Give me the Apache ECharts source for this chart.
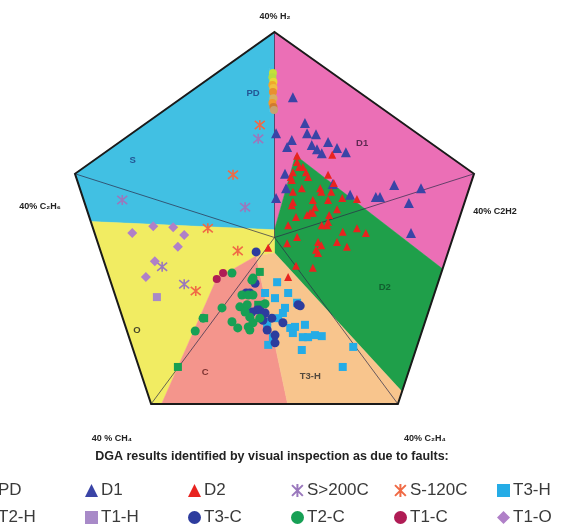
<!DOCTYPE html>
<html>
<head>
<meta charset="utf-8">
<script src="https://cdn.jsdelivr.net/npm/echarts@6/dist/echarts.min.js"></script>
<style>
  html, body { margin: 0; padding: 0; background: #fff; }
  #chart { width: 565px; height: 530px; }
</style>
</head>
<body>
<div id="chart"></div>
<script>
// Duval pentagon 2, vertices at 40% of each gas
const pentagon = [[0, 40], [38, 12.4], [23.5, -32.4], [-23.5, -32.4], [-38, 12.4]]

// zone boundaries
const zoneS = [[0, 1.5], [-35, 3.1], [-38, 12.4], [0, 40], [0, 33], [-1, 33], [-1, 24.5], [0, 24.5]]
const zonePD = [[0, 33], [-1, 33], [-1, 24.5], [0, 24.5]]
const zoneD1 = [[0, 40], [38, 12.4], [32, -6.1], [4, 16], [0, 1.5]]
const zoneD2 = [[4, 16], [32, -6.1], [24.3, -30], [0, -3], [0, 1.5]]
const zoneO = [[-3.5, -3.6], [-11, -8], [-21.5, -32.4], [-23.5, -32.4], [-35, 3.1], [0, 1.5], [0, -3]]
const zoneC = [[-3.5, -3.6], [2.5, -32.4], [-21.5, -32.4], [-11, -8]]
const zoneT3H = [[0, -3], [24.3, -30], [23.5, -32.4], [2.5, -32.4], [-3.5, -3.6]]

const zoneLabels = [
  ['PD', -4.1, 28.1], ['S', -27, 15.1], ['D1', 16.7, 18.4], ['D2', 21, -9.8],
  ['O', -26.2, -18], ['C', -13.2, -26.2], ['T3-H', 6.8, -27]
]

// DGA points
const pdPoints = [[-0.3, 32], [-0.4, 31.2], [-0.2, 30.3], [-0.4, 29.7], [-0.2, 29.1], [-0.3, 28.3], [-0.2, 27.1], [-0.4, 26.2], [-0.2, 25.4], [-0.1, 24.8]]
const d1Points = [[3.5, 27.3], [5.8, 22.3], [6.2, 20.3], [7.9, 20.1], [3.3, 19], [2.4, 17.6], [7.1, 18], [8.1, 17.2], [9, 16.4], [10.2, 18.6], [11.9, 17.4], [13.6, 16.6], [0.3, 20.3], [2, 12.4], [2.2, 9.6], [0.3, 7.7], [11.1, 10.4], [14.4, 8.3], [19.3, 7.9], [20.1, 7.9], [22.8, 10.2], [27.9, 9.6], [25.6, 6.7], [26, 0.9]]
const d2Points = [[4.3, 15.9], [4.3, 14.7], [4.7, 13.7], [3.5, 12.7], [3.1, 11.8], [3.3, 11.2], [5.4, 13.7], [6, 12.7], [6.4, 11.8], [5.2, 9.6], [3.5, 8.9], [3.5, 6.9], [3.3, 6.3], [4.1, 4], [8.7, 9.6], [8.9, 8.9], [10.2, 12.2], [10.8, 8.9], [11.3, 10.6], [12.9, 7.7], [15.7, 7.5], [7.3, 7.3], [7.7, 5.9], [10.2, 7.3], [11.9, 5.5], [6.2, 4.4], [6.8, 4.8], [7.3, 4.8], [9, 2.4], [10, 2.4], [10.2, 3], [10.4, 4.4], [13, 1.1], [15.7, 1.8], [2.6, 2.4], [4.3, 0.1], [2.4, -1.1], [8.3, -0.9], [8.9, -1.5], [7.9, -2.4], [8.3, -3], [11.9, -0.9], [13.8, -1.8], [11, 16.1], [7.3, -5.9], [2.6, -7.7], [-1.2, -2], [17.4, 0.9], [4.1, -5.5]]
const s200Points = [[-3.1, 19.2], [-29, 7.3], [-5.6, 5.9], [-21.4, -5.7], [-17.2, -9.1]]
const s120Points = [[-2.8, 21.9], [-7.9, 12.2], [-12.7, 1.8], [-7, -2.6], [-15, -10.4]]
const t3hPoints = [[0.5, -8.7], [2.6, -10.8], [0.1, -11.8], [-1.8, -10.8], [4.3, -12.7], [2, -13.7], [1.6, -14.7], [0.7, -15.7], [3, -17.6], [3.9, -17.4], [5.8, -17], [5.4, -19.4], [6.4, -19.4], [7.7, -19], [9, -19.2], [3.5, -18.6], [-1.4, -17.6], [-1.2, -20.9], [5.2, -21.9], [15, -21.3], [13, -25.2], [-0.3, -19.4], [-1.4, -16.4]]
const t2hPoints = [[-18.4, -25.2], [-13.4, -15.7], [-2.8, -6.7], [-3.1, -13.1]]
const t1hPoints = [[-22.4, -11.6]]
const t3cPoints = [[-3.5, -2.8], [-3.7, -8.9], [-5.4, -10.8], [-4.7, -10.8], [-2.8, -14.1], [-3.3, -14.1], [-1.8, -14.7], [-4.3, -14.5], [-2.2, -16.1], [-1.4, -18], [0.1, -19], [1.6, -16.6], [-0.5, -15.7], [4.5, -13.1], [4.9, -13.3], [0.1, -20.5]]
const t2cPoints = [[-8.1, -6.9], [-10, -13.7], [-13.6, -15.7], [-15.1, -18.2], [-8.1, -16.4], [-7, -17.6], [-6.6, -13.5], [-5.2, -13.1], [-4.7, -15.5], [-5.6, -14.5], [-5, -17.4], [-4.1, -16.6], [-2.8, -15.7], [-4.3, -8.3], [-6.2, -11.2], [-5, -11.2], [-4.1, -11.2], [-1.8, -12.9], [-4.7, -18], [-4.1, -7.9]]
const t1cPoints = [[-11, -8.1], [-9.8, -6.9]]
const t1oPoints = [[-27.1, 0.9], [-23.1, 2.2], [-19.3, 2], [-17.2, 0.5], [-18.4, -1.8], [-22.8, -4.6], [-24.5, -7.7]]

const legendRows = [
  ['PD', 'D1', 'D2', 'S>200C', 'S-120C', 'T3-H'],
  ['T2-H', 'T1-H', 'T3-C', 'T2-C', 'T1-C', 'T1-O']
]

const zones = [
  { pts: zoneS, color: '#41c0e3' },
  { pts: zonePD, color: '#41c0e3' },
  { pts: zoneD1, color: '#eb6fb6' },
  { pts: zoneD2, color: '#1f9f4a' },
  { pts: zoneO, color: '#f1ec62' },
  { pts: zoneC, color: '#f4958c' },
  { pts: zoneT3H, color: '#f8c58d' }
]
const zoneLabelColors = ['#1d3a80', '#1d3a80', '#3a1838', '#0e4f28', '#1a1a1a', '#5a1818', '#2a2a2a']

const pdColors = ['#c4e03a', '#b8dc40', '#e8d838', '#f0a82c', '#f0c040', '#e89030', '#d8b060', '#f09a30', '#d07a30', '#c8a070']
const asterisk = 'path://M0,0L10,10M10,0L0,10M5,-1L5,11'
const font = 'Liberation Sans'

const chart = echarts.init(document.getElementById('chart'))

function scatter(name, data, symbol, size, color, extra) {
  return Object.assign({
    name: name,
    type: 'scatter',
    data: data,
    symbol: symbol,
    symbolSize: size,
    z: 5,
    itemStyle: { color: color, opacity: 1 }
  }, extra || {})
}

const colX = [-18, 85, 188, 291, 394, 497]
const rowY = [482, 509]
const legends = []
legendRows.forEach((row, r) => {
  row.forEach((name, c) => {
    legends.push({
      data: [name],
      left: colX[c],
      top: rowY[r],
      padding: 0,
      itemGap: 0,
      itemWidth: 13,
      itemHeight: 13,
      selectedMode: false,
      textStyle: { fontSize: 17, color: '#3a3a3a', fontFamily: font, padding: [0, 0, 0, -2] }
    })
  })
})

const vlabel = (text, x, y) => ({
  type: 'text', x: x, y: y,
  style: { text: text, fill: '#222', font: 'bold 9px "Liberation Sans", "DejaVu Sans"', textAlign: 'center', textVerticalAlign: 'middle' }
})

chart.setOption({
  animation: false,
  backgroundColor: '#fff',
  grid: { left: 64.5, top: 32, width: 420, height: 411 },
  xAxis: { type: 'value', min: -40, max: 40, show: false },
  yAxis: { type: 'value', min: -40, max: 40, show: false },
  legend: legends,
  graphic: [
    vlabel('40% H₂', 275, 17),
    vlabel('40% C₂H₆', 40, 207),
    vlabel('40% C2H2', 495, 212),
    vlabel('40 % CH₄', 112, 439),
    vlabel('40% C₂H₄', 425, 439),
    {
      type: 'text', x: 272, y: 457,
      style: { text: 'DGA results identified by visual inspection as due to faults:', fill: '#222', font: 'bold 12.5px "Liberation Sans"', textAlign: 'center', textVerticalAlign: 'middle' }
    }
  ],
  series: [
    {
      type: 'custom',
      z: 1,
      silent: true,
      data: zones.map((z, i) => i),
      renderItem: (params, api) => {
        const z = zones[params.dataIndex]
        return {
          type: 'polygon',
          shape: { points: z.pts.map(p => api.coord(p)) },
          style: { fill: z.color, stroke: z.color, lineWidth: 0.5 }
        }
      }
    },
    {
      type: 'custom',
      z: 2,
      silent: true,
      data: [0],
      renderItem: (params, api) => {
        const o = api.coord([0, 0])
        const pts = pentagon.map(p => api.coord(p))
        const spokes = pts.map(p => ({
          type: 'line',
          shape: { x1: p[0], y1: p[1], x2: o[0], y2: o[1] },
          style: { stroke: '#2b2b48', lineWidth: 1, opacity: 0.7 }
        }))
        return {
          type: 'group',
          children: spokes.concat([{
            type: 'polygon',
            shape: { points: pts },
            style: { fill: 'none', stroke: '#1a1a1a', lineWidth: 2 }
          }])
        }
      }
    },
    {
      type: 'scatter',
      z: 6,
      silent: true,
      symbolSize: 0,
      data: zoneLabels.map((l, i) => ({
        value: [l[1], l[2], l[0]],
        label: { color: zoneLabelColors[i] }
      })),
      label: {
        show: true,
        position: 'inside',
        formatter: p => p.value[2],
        fontSize: 9.5,
        fontWeight: 'bold',
        fontFamily: font
      }
    },
    scatter('PD', pdPoints, 'circle', 8, '#c4e03a', {
      itemStyle: { opacity: 1, color: p => pdColors[p.dataIndex % pdColors.length] }
    }),
    scatter('D1', d1Points, 'triangle', 10, '#3a44a6'),
    scatter('D2', d2Points, 'triangle', 8, '#e8231f'),
    scatter('S>200C', s200Points, asterisk, 10, '#9a78bd', {
      itemStyle: { opacity: 1, color: '#9a78bd', borderColor: '#9a78bd', borderWidth: 1.6 }
    }),
    scatter('S-120C', s120Points, asterisk, 10, '#f06a45', {
      itemStyle: { opacity: 1, color: '#f06a45', borderColor: '#f06a45', borderWidth: 1.6 }
    }),
    scatter('T3-H', t3hPoints, 'rect', 8, '#25ace6'),
    scatter('T2-H', t2hPoints, 'rect', 8, '#17a052'),
    scatter('T1-H', t1hPoints, 'rect', 8, '#a88ac8'),
    scatter('T3-C', t3cPoints, 'circle', 9, '#2d3c9e'),
    scatter('T2-C', t2cPoints, 'circle', 9, '#17a055'),
    scatter('T1-C', t1cPoints, 'circle', 8, '#b01c55'),
    scatter('T1-O', t1oPoints, 'diamond', 10, '#b080c8')
  ]
})
</script>
</body>
</html>
